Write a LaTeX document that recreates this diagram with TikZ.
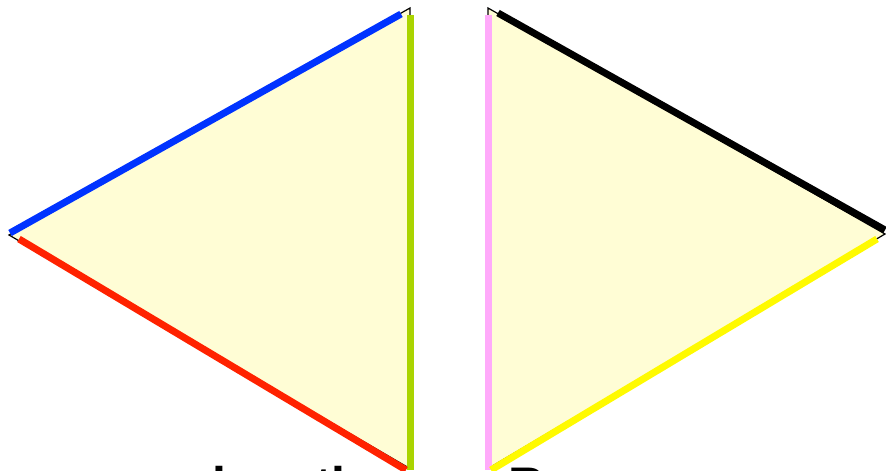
\documentclass[tikz,border=0pt]{standalone}
\usepackage{fontspec}
\setmainfont{Liberation Sans}
\usepackage{tikz}

\definecolor{facefill}{RGB}{255,253,213}
\definecolor{edgeblue}{RGB}{0,51,255}
\definecolor{edgered}{RGB}{255,34,0}
\definecolor{edgegreen}{RGB}{170,212,0}
\definecolor{edgepink}{RGB}{255,170,250}
\definecolor{edgeyellow}{RGB}{255,250,0}

\begin{document}
\begin{tikzpicture}[x=1pt,y=-1pt,
  face/.style={fill=facefill,draw=black,line width=1.2pt,line join=miter},
  edge/.style={line width=7pt}]
\useasboundingbox (0,0) rectangle (886,471);
\coordinate (la) at (9,235);
\coordinate (lb) at (410,8);
\coordinate (lc) at (409,468);
\coordinate (ra) at (488,8);
\coordinate (rb) at (885,234);
\coordinate (rc) at (489,468);
\draw[face] (la)--(lb)--(lc)--cycle;
\draw[face] (ra)--(rb)--(rc)--cycle;
\coordinate (blue0) at (10,233);
\coordinate (blue1) at (401,14);
\coordinate (green0) at (410,15);
\coordinate (green1) at (410,470);
\coordinate (red0) at (19,239);
\coordinate (red1) at (406,470);
\draw[edge,edgeblue] (blue0)--(blue1);
\draw[edge,edgegreen] (green0)--(green1);
\draw[edge,edgered] (red0)--(red1);
\coordinate (pink0) at (488,15);
\coordinate (pink1) at (488,470);
\coordinate (black0) at (498,13);
\coordinate (black1) at (885,230);
\coordinate (yel0) at (877,239);
\coordinate (yel1) at (491,470);
\draw[edge,edgepink] (pink0)--(pink1);
\draw[edge,black] (black0)--(black1);
\draw[edge,edgeyellow] (yel0)--(yel1);
\node[anchor=base west,inner sep=0pt,font=\bfseries\fontsize{50}{60}\selectfont]
  (caption) at (212,502) {length over\hspace{0.25em} Range};
\end{tikzpicture}
\end{document}
